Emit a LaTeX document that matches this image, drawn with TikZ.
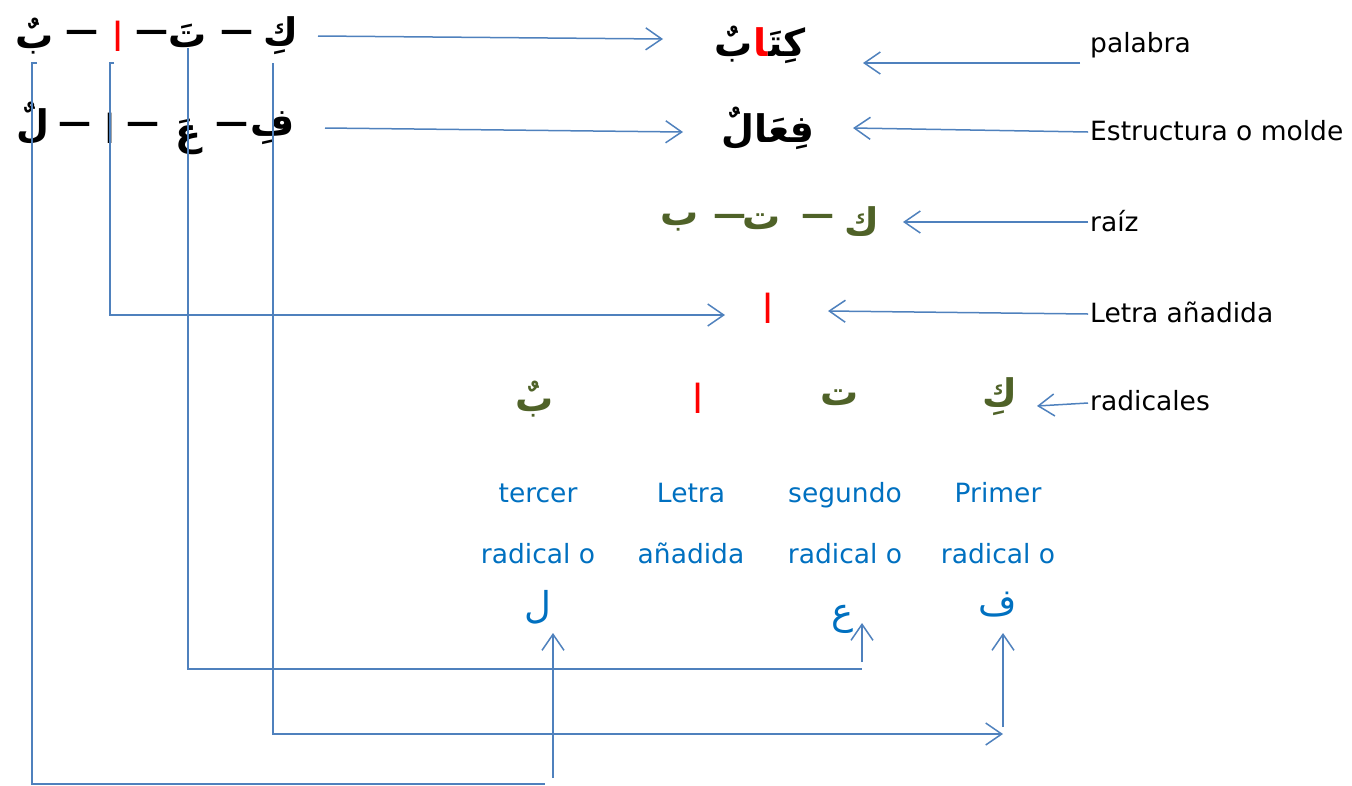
\documentclass[tikz,border=0pt]{standalone}
\usepackage{fontspec}
\usetikzlibrary{arrows.meta}
\setmainfont{DejaVu Sans}
\newfontfamily\arabicfont[Script=Arabic]{DejaVu Sans}
\TeXXeTstate=1
\definecolor{lineblue}{HTML}{4F81BD}
\definecolor{textblue}{HTML}{0070C0}
\definecolor{rootgreen}{HTML}{4F6228}
\definecolor{addred}{HTML}{FF0000}
\newcommand\AR[1]{\beginR #1\endR}
\tikzset{
  conn/.style={draw=lineblue, line width=1.5pt},
  arr/.style={conn, -{Straight Barb[length=16pt,width=22pt]}},
  ar/.style={font=\arabicfont\bfseries\fontsize{38}{44}\selectfont, inner sep=0pt},
  alif/.style={font=\arabicfont\fontsize{40}{44}\selectfont, inner sep=0pt},
  arthin/.style={font=\arabicfont\fontsize{37}{42}\selectfont, inner sep=0pt, text=textblue},
  dsh/.style={font=\bfseries\fontsize{33}{36}\selectfont, inner sep=0pt},
  lab/.style={font=\fontsize{26.5}{30}\selectfont, anchor=base west, inner sep=0pt},
  blab/.style={font=\fontsize{26.5}{30}\selectfont, text=textblue, anchor=base, inner sep=0pt},
}
\begin{document}
\begin{tikzpicture}[x=1pt,y=-1pt]
\useasboundingbox (0,0) rectangle (1352,785);
% top-left row: word
\node[ar] (tB) at (35,36) {\AR{بٌ}};
\node[dsh] (td1) at (82,36) {—};
\node[alif, text=addred] (tA) at (118,36) {\AR{ا}};
\node[dsh] (td2) at (152,36) {—};
\node[ar] (tT) at (188,36) {\AR{تَ}};
\node[dsh] (td3) at (237,36) {—};
\node[ar] (tK) at (281,36) {\AR{كِ}};
% second row: pattern
\node[ar] (pL) at (33,123) {\AR{لٌ}};
\node[dsh] (pd1) at (75,128) {—};
\node[alif] (pA) at (110,128) {\AR{ا}};
\node[dsh] (pd2) at (143,128) {—};
\node[ar] (pE) at (188,137) {\AR{عَ}};
\node[dsh] (pd3) at (232,128) {—};
\node[ar] (pF) at (273,128) {\AR{فِ}};
% middle column
\node[ar, anchor=base east] (wK) at (806,56) {كِتَ^^^^200d};
\node[ar, anchor=base east, text=addred] (wA) at (wK.base west) {^^^^200dا};
\node[ar, anchor=base east] (wB) at (wA.base west) {بٌ};
\node[ar] (pattern) at (768,128) {\AR{فِعَالٌ}};
\node[ar, text=rootgreen] (rB) at (680,222) {\AR{ب}};
\node[dsh, text=rootgreen] (rd1) at (730,220) {—};
\node[ar, text=rootgreen] (rT) at (762,222) {\AR{ت}};
\node[dsh, text=rootgreen] (rd2) at (818,220) {—};
\node[ar, text=rootgreen] (rK) at (862,222) {\AR{ك}};
\node[alif, text=addred] (added) at (768,308) {\AR{ا}};
% radicals row
\node[ar, text=rootgreen] (radB) at (535,399) {\AR{بٌ}};
\node[alif, text=addred] (radA) at (698,398) {\AR{ا}};
\node[ar, text=rootgreen] (radT) at (840,398) {\AR{ت}};
\node[ar, text=rootgreen] (radK) at (1000,397) {\AR{كِ}};
% blue descriptions
\node[blab] (d1a) at (538,502) {tercer};
\node[blab] (d1b) at (538,563) {radical o};
\node[blab] (d2a) at (691,502) {Letra};
\node[blab] (d2b) at (691,563) {añadida};
\node[blab] (d3a) at (845,502) {segundo};
\node[blab] (d3b) at (845,563) {radical o};
\node[blab] (d4a) at (998,502) {Primer};
\node[blab] (d4b) at (998,563) {radical o};
\node[arthin] (bL) at (538,607) {\AR{ل}};
\node[arthin] (bE) at (843,619) {\AR{ع}};
\node[arthin] (bF) at (998,605) {\AR{ف}};
% right labels
\node[lab] (lPal) at (1090,52) {palabra};
\node[lab] (lEst) at (1090,140) {Estructura o molde};
\node[lab] (lRaiz) at (1090,231) {raíz};
\node[lab] (lLet) at (1090,322) {Letra añadida};
\node[lab] (lRad) at (1090,410) {radicales};
% connector coordinates
\coordinate (w1s) at (318,36);  \coordinate (w1e) at (663,39);
\coordinate (w2s) at (325,128); \coordinate (w2e) at (683,132);
\coordinate (pals) at (1080,63);  \coordinate (pale) at (863,63);
\coordinate (ests) at (1088,132); \coordinate (este) at (853,128);
\coordinate (rzs) at (1088,222);  \coordinate (rze) at (903,222);
\coordinate (lts) at (1088,314);  \coordinate (lte) at (828,311);
\coordinate (rds) at (1088,403);  \coordinate (rde) at (1037,406);
\coordinate (aH) at (114,63); \coordinate (aS) at (110,63); \coordinate (aE) at (725,315);
\coordinate (bS) at (188,48); \coordinate (bC) at (862,669);
\coordinate (bUs) at (862,662); \coordinate (bUe) at (862,623);
\coordinate (cS) at (273,63); \coordinate (cE) at (1003,734);
\coordinate (cUs) at (1003,727); \coordinate (cUe) at (1003,633);
\coordinate (dH) at (37,63); \coordinate (dS) at (32,63); \coordinate (dE) at (545,784);
\coordinate (dUs) at (553,778); \coordinate (dUe) at (553,633);
% connectors
\draw[arr] (w1s) -- (w1e);
\draw[arr] (w2s) -- (w2e);
\draw[arr] (pals) -- (pale);
\draw[arr] (ests) -- (este);
\draw[arr] (rzs) -- (rze);
\draw[arr] (lts) -- (lte);
\draw[arr] (rds) -- (rde);
\draw[arr] (aH) -- (aS) |- (aE);
\draw[conn, line width=2pt] (bS) |- (bC);
\draw[arr] (bUs) -- (bUe);
\draw[arr] (cS) |- (cE);
\draw[arr] (cUs) -- (cUe);
\draw[conn] (dH) -- (dS) |- (dE);
\draw[arr] (dUs) -- (dUe);
\end{tikzpicture}
\end{document}
